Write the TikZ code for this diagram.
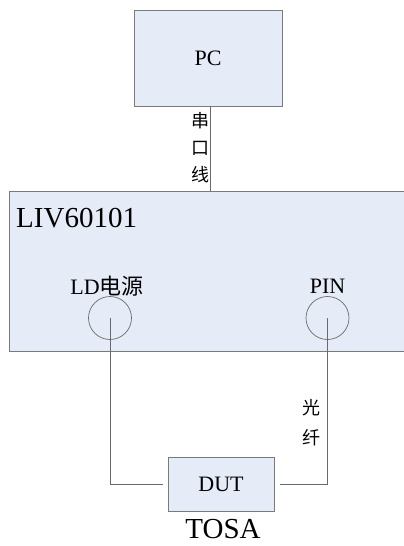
\documentclass[tikz,border=0pt]{standalone}
\usepackage{fontspec}
\setmainfont{Liberation Serif}
\newfontfamily\cjk{Noto Sans CJK SC}
\usetikzlibrary{positioning,calc}
\definecolor{boxfill}{HTML}{E6ECF7}
\definecolor{boxline}{HTML}{7A7A7A}
\definecolor{wirecol}{HTML}{6A6A6A}

\begin{document}
\begin{tikzpicture}[x=1pt,y=-1pt,
    unit/.style={draw=boxline,fill=boxfill,line width=0.9pt,inner sep=0pt},
    port/.style={circle,draw=wirecol,line width=0.7pt,minimum size=43pt,inner sep=0pt},
    wire/.style={draw=wirecol,line width=0.8pt},
    txt/.style={font=\fontsize{22}{26}\selectfont,inner sep=0pt},
    bigtxt/.style={font=\fontsize{29}{32}\selectfont,inner sep=0pt},
    cjktxt/.style={font=\cjk\fontsize{18}{27}\selectfont,align=center,inner sep=0pt}]
    \useasboundingbox (0,0) rectangle (404,546);

    % boxes
    \node[unit,minimum width=148pt,minimum height=96pt] (pc) at (208,58) {};
    \node[txt] (pclabel) at (208,58) {PC};

    \node[unit,minimum width=402pt,minimum height=160pt] (liv) at (210,271) {};
    \node[bigtxt,anchor=west] (livlabel) at (16,218) {LIV60101};

    \node[txt] (ldlabel) at (107,286) {LD{\cjk 电源}};
    \node[txt] (pinlabel) at (327.5,286) {PIN};
    \node[port] (ld) at (110,318) {};
    \node[port] (pin) at (327.5,318) {};

    \node[unit,minimum width=106pt,minimum height=54pt] (dut) at (221,484) {};
    \node[txt] (dutlabel) at (221,484) {DUT};
    \node[bigtxt] (tosa) at (223,529) {TOSA};

    % cables
    \draw[wire] ([xshift=2pt]pc.south) -- ([xshift=2pt]pc.south |- liv.north);
    \node[cjktxt] (serial) at (200,148) {串\\口\\线};

    \draw[wire] (ld.center) -- (ld.center |- dut.west) -- ([xshift=-5pt]dut.west);
    \draw[wire] (pin.center) -- (pin.center |- dut.east) -- ([xshift=6pt]dut.east);
    \node[cjktxt,font=\cjk\fontsize{18}{30}\selectfont] (fiber) at (311,423) {光\\纤};
\end{tikzpicture}
\end{document}
